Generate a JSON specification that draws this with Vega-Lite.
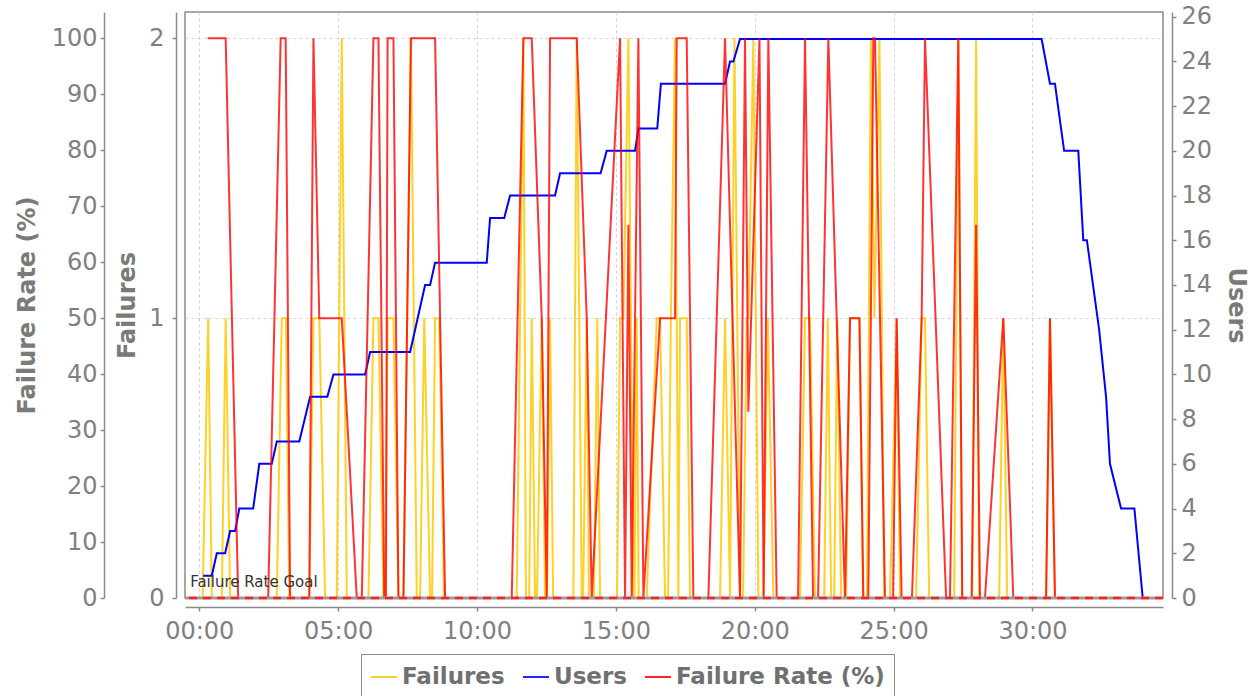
{
  "$schema": "https://vega.github.io/schema/vega-lite/v6.json",
  "width": 978,
  "height": 586,
  "autosize": {"type": "none"},
  "padding": {"left": 185, "top": 12, "right": 89, "bottom": 98},
  "background": "white",
  "config": {
    "view": {"stroke": "#8a8a8a", "strokeWidth": 1.5},
    "font": "DejaVu Sans",
    "axis": {
      "labelFont": "DejaVu Sans", "labelFontSize": 24, "labelColor": "#808080",
      "titleFont": "DejaVu Sans", "titleFontSize": 24, "titleFontWeight": "bold", "titleColor": "#7a7a7a",
      "domainColor": "#8a8a8a", "domainWidth": 1.5, "tickColor": "#8a8a8a", "tickSize": 4, "tickWidth": 1.5,
      "gridColor": "#d4d4d4", "gridDash": [3, 3], "gridWidth": 1, "labelOverlap": false
    }
  },
  "datasets": {
    "f": [
      {"t":0.12,"v":0},{"t":0.32,"v":1},{"t":0.45,"v":0},{"t":0.81,"v":0},{"t":0.95,"v":1},{"t":1.11,"v":0},
      {"t":2.79,"v":0},{"t":2.97,"v":1},{"t":3.12,"v":1},{"t":3.24,"v":0},{"t":3.96,"v":0},{"t":4.11,"v":1},
      {"t":4.32,"v":1},{"t":4.53,"v":0},{"t":4.95,"v":0},{"t":5.13,"v":2},{"t":5.31,"v":0},{"t":6.09,"v":0},
      {"t":6.27,"v":1},{"t":6.45,"v":1},{"t":6.63,"v":0},{"t":6.69,"v":0},{"t":6.78,"v":1},{"t":6.99,"v":1},
      {"t":7.17,"v":0},{"t":7.35,"v":0},{"t":7.62,"v":2},{"t":7.83,"v":0},{"t":7.95,"v":0},{"t":8.10,"v":1},
      {"t":8.31,"v":0},{"t":8.38,"v":0},{"t":8.49,"v":1},{"t":8.64,"v":1},{"t":8.81,"v":0},{"t":11.43,"v":0},
      {"t":11.67,"v":2},{"t":11.76,"v":0},{"t":11.88,"v":0},{"t":11.97,"v":1},{"t":12.09,"v":0},{"t":12.16,"v":0},
      {"t":12.33,"v":1},{"t":12.45,"v":0},{"t":12.52,"v":0},{"t":12.63,"v":1},{"t":12.74,"v":0},{"t":13.47,"v":0},
      {"t":13.59,"v":2},{"t":13.77,"v":0},{"t":13.82,"v":0},{"t":13.95,"v":1},{"t":14.03,"v":0},{"t":14.21,"v":0},
      {"t":14.33,"v":1},{"t":14.43,"v":0},{"t":15.04,"v":0},{"t":15.15,"v":1},{"t":15.27,"v":1},{"t":15.45,"v":2},
      {"t":15.63,"v":0},{"t":15.67,"v":0},{"t":15.75,"v":1},{"t":15.82,"v":0},{"t":16.11,"v":0},{"t":16.47,"v":1},
      {"t":16.59,"v":1},{"t":16.77,"v":0},{"t":16.88,"v":0},{"t":16.98,"v":1},{"t":17.13,"v":2},{"t":17.25,"v":0},
      {"t":17.31,"v":1},{"t":17.55,"v":1},{"t":17.67,"v":0},{"t":18.75,"v":0},{"t":18.93,"v":1},{"t":19.11,"v":0},
      {"t":19.27,"v":2},{"t":19.47,"v":0},{"t":19.58,"v":0},{"t":19.71,"v":1},{"t":19.77,"v":1},{"t":19.95,"v":2},
      {"t":20.13,"v":0},{"t":20.31,"v":0},{"t":20.47,"v":1},{"t":20.67,"v":0},{"t":21.63,"v":0},{"t":21.81,"v":1},
      {"t":21.99,"v":1},{"t":22.17,"v":0},{"t":22.50,"v":0},{"t":22.63,"v":1},{"t":22.75,"v":0},{"t":22.86,"v":0},
      {"t":22.97,"v":1},{"t":23.11,"v":0},{"t":23.29,"v":0},{"t":23.43,"v":1},{"t":23.77,"v":1},{"t":23.90,"v":0},
      {"t":24.04,"v":0},{"t":24.18,"v":2},{"t":24.31,"v":1},{"t":24.49,"v":2},{"t":24.66,"v":0},{"t":24.87,"v":0},
      {"t":25.11,"v":1},{"t":25.23,"v":0},{"t":25.81,"v":0},{"t":26.01,"v":1},{"t":26.13,"v":1},{"t":26.28,"v":0},
      {"t":27.18,"v":0},{"t":27.33,"v":2},{"t":27.47,"v":0},{"t":27.83,"v":0},{"t":27.97,"v":2},{"t":28.08,"v":0},
      {"t":28.80,"v":0},{"t":28.95,"v":1},{"t":29.09,"v":0},{"t":30.49,"v":0},{"t":30.63,"v":1},{"t":30.81,"v":0},
      {"t":33.95,"v":0}
    ],
    "u": [
      {"t":0.14,"v":1},{"t":0.45,"v":1},{"t":0.63,"v":2},{"t":0.93,"v":2},{"t":1.11,"v":3},{"t":1.29,"v":3},
      {"t":1.44,"v":4},{"t":1.94,"v":4},{"t":2.16,"v":6},{"t":2.61,"v":6},{"t":2.79,"v":7},{"t":3.60,"v":7},
      {"t":3.99,"v":9},{"t":4.61,"v":9},{"t":4.83,"v":10},{"t":5.97,"v":10},{"t":6.15,"v":11},{"t":7.59,"v":11},
      {"t":8.13,"v":14},{"t":8.31,"v":14},{"t":8.49,"v":15},{"t":10.35,"v":15},{"t":10.47,"v":17},{"t":10.98,"v":17},
      {"t":11.19,"v":18},{"t":12.81,"v":18},{"t":12.99,"v":19},{"t":14.45,"v":19},{"t":14.67,"v":20},{"t":15.69,"v":20},
      {"t":15.81,"v":21},{"t":16.49,"v":21},{"t":16.62,"v":23},{"t":18.93,"v":23},{"t":19.11,"v":24},{"t":19.23,"v":24},
      {"t":19.47,"v":25},{"t":30.33,"v":25},{"t":30.63,"v":23},{"t":30.81,"v":23},{"t":31.14,"v":20},{"t":31.65,"v":20},
      {"t":31.83,"v":16},{"t":31.96,"v":16},{"t":32.40,"v":12},{"t":32.65,"v":9},{"t":32.79,"v":6},{"t":33.19,"v":4},
      {"t":33.67,"v":4},{"t":33.97,"v":0}
    ],
    "r": [
      {"t":0.30,"v":100},{"t":0.95,"v":100},{"t":1.40,"v":0},{"t":2.48,"v":0},{"t":2.93,"v":100},{"t":3.11,"v":100},
      {"t":3.27,"v":0},{"t":3.96,"v":0},{"t":4.11,"v":100},{"t":4.32,"v":50},{"t":5.13,"v":50},{"t":5.67,"v":0},
      {"t":5.85,"v":0},{"t":6.27,"v":100},{"t":6.45,"v":100},{"t":6.66,"v":0},{"t":6.72,"v":0},{"t":6.78,"v":100},
      {"t":6.99,"v":100},{"t":7.17,"v":0},{"t":7.35,"v":0},{"t":7.62,"v":100},{"t":8.49,"v":100},{"t":8.67,"v":50},
      {"t":8.85,"v":0},{"t":11.25,"v":0},{"t":11.67,"v":100},{"t":11.97,"v":100},{"t":12.33,"v":50},{"t":12.51,"v":0},
      {"t":12.63,"v":100},{"t":13.59,"v":100},{"t":13.95,"v":50},{"t":14.13,"v":0},{"t":15.15,"v":100},{"t":15.33,"v":0},
      {"t":15.45,"v":66.7},{"t":15.57,"v":0},{"t":15.81,"v":100},{"t":15.99,"v":0},{"t":16.59,"v":50},{"t":17.13,"v":50},
      {"t":17.19,"v":100},{"t":17.55,"v":100},{"t":17.79,"v":0},{"t":18.33,"v":0},{"t":18.93,"v":100},{"t":19.47,"v":0},
      {"t":19.65,"v":100},{"t":19.77,"v":33.3},{"t":20.17,"v":100},{"t":20.32,"v":0},{"t":20.49,"v":100},{"t":20.79,"v":0},
      {"t":21.56,"v":0},{"t":21.81,"v":100},{"t":22.10,"v":0},{"t":22.28,"v":0},{"t":22.65,"v":100},{"t":22.95,"v":50},
      {"t":23.25,"v":0},{"t":23.43,"v":50},{"t":23.77,"v":50},{"t":23.91,"v":0},{"t":24.09,"v":0},{"t":24.27,"v":100},
      {"t":24.33,"v":100},{"t":24.69,"v":0},{"t":24.98,"v":0},{"t":25.11,"v":50},{"t":25.29,"v":0},{"t":25.66,"v":0},
      {"t":26.01,"v":50},{"t":26.13,"v":100},{"t":26.89,"v":0},{"t":27.03,"v":0},{"t":27.33,"v":100},{"t":27.47,"v":0},
      {"t":27.81,"v":0},{"t":27.97,"v":66.7},{"t":28.11,"v":0},{"t":28.29,"v":0},{"t":28.95,"v":50},{"t":29.31,"v":0},
      {"t":30.49,"v":0},{"t":30.63,"v":50},{"t":30.81,"v":0},{"t":33.95,"v":0}
    ],
    "goal": [{"v": 0, "t": -0.33, "label": "Failure Rate Goal"}]
  },
  "layer": [
    {
      "data": {"name": "f"},
      "mark": {"type": "line", "strokeWidth": 2, "opacity": 0.85},
      "encoding": {
        "x": {"field": "t", "type": "quantitative", "scale": {"domain": [-0.515, 34.7], "nice": false, "zero": false},
              "axis": {"values": [0,5,10,15,20,25,30], "labelExpr": "(datum.value < 10 ? '0' : '') + datum.value + ':00'", "title": null, "grid": true, "offset": 9, "labelPadding": 8}},
        "y": {"field": "v", "type": "quantitative", "scale": {"domain": [0, 2.094], "nice": false, "zero": true},
              "axis": {"orient": "left", "offset": 9, "values": [0,1,2], "labelExpr": "'' + round(datum.value)", "title": "Failures", "grid": true, "labelPadding": 8, "titlePadding": 9}},
        "color": {"datum": "Failures", "type": "nominal",
                  "scale": {"domain": ["Failures", "Users", "Failure Rate (%)"], "range": ["#FFC800", "#0000FF", "#FF0000"]},
                  "legend": {"orient": "none", "legendX": 176, "legendY": 642, "direction": "horizontal", "title": null,
                             "symbolType": "stroke", "symbolSize": 676, "symbolStrokeWidth": 2,
                             "labelFont": "DejaVu Sans", "labelFontSize": 23, "labelFontWeight": "bold", "labelColor": "#707070",
                             "labelLimit": 500,
                             "strokeColor": "#8a8a8a", "padding": 9, "columnPadding": 14, "labelOffset": 4}}
      }
    },
    {
      "data": {"name": "u"},
      "mark": {"type": "line", "strokeWidth": 2},
      "encoding": {
        "x": {"field": "t", "type": "quantitative", "scale": {"domain": [-0.515, 34.7], "nice": false, "zero": false},
              "axis": {"values": [0,5,10,15,20,25,30], "labelExpr": "(datum.value < 10 ? '0' : '') + datum.value + ':00'", "title": null, "grid": true, "offset": 9, "labelPadding": 8}},
        "y": {"field": "v", "type": "quantitative", "scale": {"domain": [0, 26.21], "nice": false, "zero": true},
              "axis": {"orient": "right", "offset": 9, "values": [0,2,4,6,8,10,12,14,16,18,20,22,24,26], "title": "Users", "grid": false, "labelPadding": 5, "titlePadding": 12}},
        "color": {"datum": "Users", "type": "nominal",
                  "scale": {"domain": ["Failures", "Users", "Failure Rate (%)"], "range": ["#FFC800", "#0000FF", "#FF0000"]}}
      }
    },
    {
      "encoding": {
        "y": {"field": "v", "type": "quantitative", "scale": {"domain": [0, 104.7], "nice": false, "zero": true},
              "axis": {"orient": "left", "offset": 81, "values": [0,10,20,30,40,50,60,70,80,90,100], "title": "Failure Rate (%)", "grid": false, "labelPadding": 3, "titlePadding": 12}}
      },
      "layer": [
        {
          "data": {"name": "r"},
          "mark": {"type": "line", "strokeWidth": 2, "opacity": 0.8},
          "encoding": {
            "x": {"field": "t", "type": "quantitative", "scale": {"domain": [-0.515, 34.7], "nice": false, "zero": false},
                  "axis": {"values": [0,5,10,15,20,25,30], "labelExpr": "(datum.value < 10 ? '0' : '') + datum.value + ':00'", "title": null, "grid": true, "offset": 9, "labelPadding": 8}},
            "color": {"datum": "Failure Rate (%)", "type": "nominal",
                      "scale": {"domain": ["Failures", "Users", "Failure Rate (%)"], "range": ["#FFC800", "#0000FF", "#FF0000"]}}
          }
        },
        {
          "data": {"name": "goal"},
          "mark": {"type": "rule", "color": "#9a9a9a", "strokeWidth": 3},
          "encoding": {}
        },
        {
          "data": {"name": "goal"},
          "mark": {"type": "rule", "color": "#FF2020", "strokeDash": [8, 6], "strokeWidth": 2.5},
          "encoding": {}
        },
        {
          "data": {"name": "goal"},
          "mark": {"type": "text", "align": "left", "baseline": "alphabetic", "dy": -11, "font": "DejaVu Sans", "fontSize": 15, "color": "#333333"},
          "encoding": {
            "x": {"field": "t", "type": "quantitative", "scale": {"domain": [-0.515, 34.7], "nice": false, "zero": false},
                  "axis": {"values": [0,5,10,15,20,25,30], "labelExpr": "(datum.value < 10 ? '0' : '') + datum.value + ':00'", "title": null, "grid": true, "offset": 9, "labelPadding": 8}},
            "text": {"field": "label"}
          }
        }
      ]
    }
  ],
  "resolve": {"scale": {"y": "independent"}}
}
